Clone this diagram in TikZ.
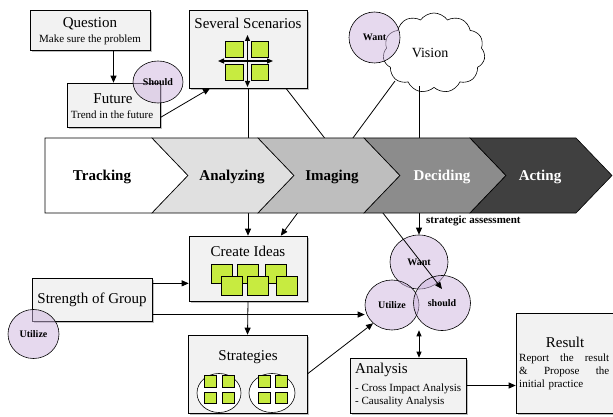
\documentclass[tikz,border=0pt]{standalone}
\usepackage{fontspec}
\setmainfont{Liberation Serif}
\usetikzlibrary{arrows.meta,shapes.geometric,shapes.symbols,shadows,calc}
\definecolor{leaf}{RGB}{199,235,64}
\definecolor{lilac}{RGB}{205,180,222}
\definecolor{boxgray}{RGB}{242,242,242}
\definecolor{stepa}{RGB}{224,224,224}
\definecolor{stepb}{RGB}{190,190,190}
\definecolor{stepc}{RGB}{140,140,140}
\definecolor{stepd}{RGB}{64,64,64}
\begin{document}
\begin{tikzpicture}[x=1pt,y=-1pt,
	box/.style={draw,fill=boxgray,line width=0.6pt,drop shadow={shadow xshift=2pt,shadow yshift=-2pt,fill=black!50,opacity=0.5}},
	big/.style={font=\fontsize{15}{18}\selectfont},
	small/.style={font=\fontsize{11}{13}\selectfont},
	tag/.style={font=\fontsize{10}{12}\selectfont\bfseries},
	stage/.style={font=\fontsize{15}{18}\selectfont\bfseries},
	bubble/.style={ellipse,draw,fill=lilac,fill opacity=0.5,text opacity=1,line width=0.6pt,inner sep=0pt},
	sq/.style={draw,fill=leaf,line width=0.5pt},
	arr/.style={-{Triangle[length=7pt,width=6pt]},line width=0.8pt},
	dbl/.style={{Triangle[length=6pt,width=5pt]}-{Triangle[length=6pt,width=5pt]},line width=0.8pt}]
					
					\useasboundingbox (0,0) rectangle (613,417);
					
					% boxes
					\node[box,minimum width=120pt,minimum height=40pt] (qst) at (90,30) {};
					\node[box,minimum width=93pt,minimum height=44pt] (fut) at (113.5,105) {};
					\node[box,minimum width=118pt,minimum height=78pt] (scn) at (248,49) {};
					\node[box,minimum width=118pt,minimum height=65pt] (cre) at (248,268.5) {};
					\node[box,minimum width=120pt,minimum height=43pt] (sog) at (92,299.5) {};
					\node[box,minimum width=119pt,minimum height=78pt] (stg) at (247.5,374) {};
					\node[box,minimum width=116pt,minimum height=55pt] (ana) at (408,385.5) {};
					\node[box,minimum width=98pt,minimum height=100pt] (res) at (565,363) {};
					
					\node[cloud,draw,fill=white,cloud puffs=11,cloud puff arc=110,aspect=1.5,minimum width=102pt,minimum height=80pt,line width=0.6pt] (vis) at (434,53) {};
					
					% texts in the boxes
					\node[big] (qsttl) at (90,24) {Question};
					\node[small] (qstsub) at (90,40) {Make sure the problem};
					\node[big] (futtl) at (113,99) {Future};
					\node[small] (futsub) at (112,115) {Trend in the future};
					\node[big] (scntl) at (248,23) {Several Scenarios};
					\node[big] (cretl) at (248,251) {Create Ideas};
					\node[big] (sogtl) at (92,300) {Strength of Group};
					\node[big] (stgtl) at (248,357) {Strategies};
					\node[big,anchor=west,inner sep=0pt] (anatl) at (355,370) {Analysis};
					\node[small,anchor=north west,align=left,inner sep=0pt] (anasub) at (355,384) {- Cross Impact Analysis\\- Causality Analysis};
					\node[big] (restl) at (565,342) {Result};
					\node[small,text width=90pt,align=left,anchor=north west,inner sep=0pt] (ressub) at (519,354) {Report\hfill the\hfill result\\ \&\hfill Propose\hfill the\\ initial practice};
					\node[font=\fontsize{14}{16}\selectfont] (vistl) at (430,53) {Vision};
					
					% green squares
					\draw[sq] (225,41) rectangle (243,57);
					\draw[sq] (251,41) rectangle (268,57);
					\draw[sq] (225,64) rectangle (243,80);
					\draw[sq] (251,64) rectangle (268,80);
					\draw[dbl,line width=1.2pt] (247.5,35) -- (247.5,87);
					\draw[dbl,line width=1.2pt] (218,61) -- (273,61);
					
					\draw[sq] (211,264) rectangle (232,283);
					\draw[sq] (237,264) rectangle (258,283);
					\draw[sq] (265,264) rectangle (286,283);
					\draw[sq] (221,276) rectangle (242,295);
					\draw[sq] (247,276) rectangle (268,295);
					\draw[sq] (276,276) rectangle (297,295);
					
					\draw[line width=0.6pt,fill=white] (219,393) ellipse [x radius=22pt,y radius=19.5pt];
					\draw[line width=0.6pt,fill=white] (272,393) ellipse [x radius=23pt,y radius=19.5pt];
					\draw[sq] (204,375) rectangle (216,387);
					\draw[sq] (222,375) rectangle (234,387);
					\draw[sq] (204,392) rectangle (216,403);
					\draw[sq] (222,392) rectangle (234,403);
					\draw[sq] (258,375) rectangle (270,387);
					\draw[sq] (275,375) rectangle (287,387);
					\draw[sq] (258,392) rectangle (270,403);
					\draw[sq] (275,392) rectangle (287,403);
					
					% circles
					\node[bubble,tag,minimum width=50pt,minimum height=42pt] (shd) at (158,82) {Should};
					\node[bubble,tag,minimum width=51pt,minimum height=51pt] (wnt0) at (374.5,37.5) {Want};
					\node[bubble,tag,minimum width=51pt,minimum height=49pt] (utl0) at (33.5,334) {Utilize};
					\node[bubble,tag,minimum width=58pt,minimum height=54pt] (wnt) at (419,262) {Want};
					\node[bubble,tag,minimum width=54pt,minimum height=50pt] (utl) at (392,305) {Utilize};
					\node[bubble,tag,minimum width=57pt,minimum height=55pt] (shl) at (442,303) {should};
					
					\coordinate (vleft) at ($(vis.center)+(-39,28)$);
					\coordinate (vbot) at (419,86);
					\coordinate (hit) at (442,289);
					
					% connectors
					\draw[arr] (fut.north |- qst.south) -- (fut.north);
					\draw[arr] (fut.-15) -- (scn.-134);
					\draw[arr] (scn.south) -- (cre.north);
					\draw[arr] (scn.-46) -- (hit);
					\draw[arr] (vleft) -- (cre.45);
					\draw[arr] (vbot) -- (wnt.north);
					\draw[arr] (sog.15) -- (sog.15 -| cre.west);
					\draw[arr] (sog.-14) -- (sog.-14 -| utl.west);
					\draw[arr] (cre.south) -- (stg.north);
					\draw[arr] (stg.east) -- (utl.224);
					\draw[dbl] (wnt.center |- utl.south) -- (wnt.center |- ana.north);
					\draw[arr] (ana.east) -- (ana.east -| res.west);
					
					% process steps
					\draw[line width=0.6pt,fill=white] (45,138) -- (152,138) -- (188,175.5) -- (152,213) -- (45,213) -- cycle;
					\draw[line width=0.6pt,fill=stepa] (152,138) -- (258,138) -- (294,175.5) -- (258,213) -- (152,213) -- (188,175.5) -- cycle;
					\draw[line width=0.6pt,fill=stepb] (258,138) -- (364,138) -- (400,175.5) -- (364,213) -- (258,213) -- (294,175.5) -- cycle;
					\draw[line width=0.6pt,fill=stepc] (364,138) -- (470,138) -- (506,175.5) -- (470,213) -- (364,213) -- (400,175.5) -- cycle;
					\draw[line width=0.6pt,fill=stepd] (470,138) -- (576,138) -- (612,175.5) -- (576,213) -- (470,213) -- (506,175.5) -- cycle;
					
					\node[stage] (trk) at (102,177) {Tracking};
					\node[stage] (anl) at (232,177) {Analyzing};
					\node[stage] (img) at (332,177) {Imaging};
					\node[stage,text=white] (dcd) at (442,177) {Deciding};
					\node[stage,text=white] (act) at (540,177) {Acting};
					
					\node[tag,font=\fontsize{11}{13}\selectfont\bfseries,anchor=west,inner sep=0pt] (sas) at (426,221) {strategic assessment};
					
				\end{tikzpicture}
\end{document}
